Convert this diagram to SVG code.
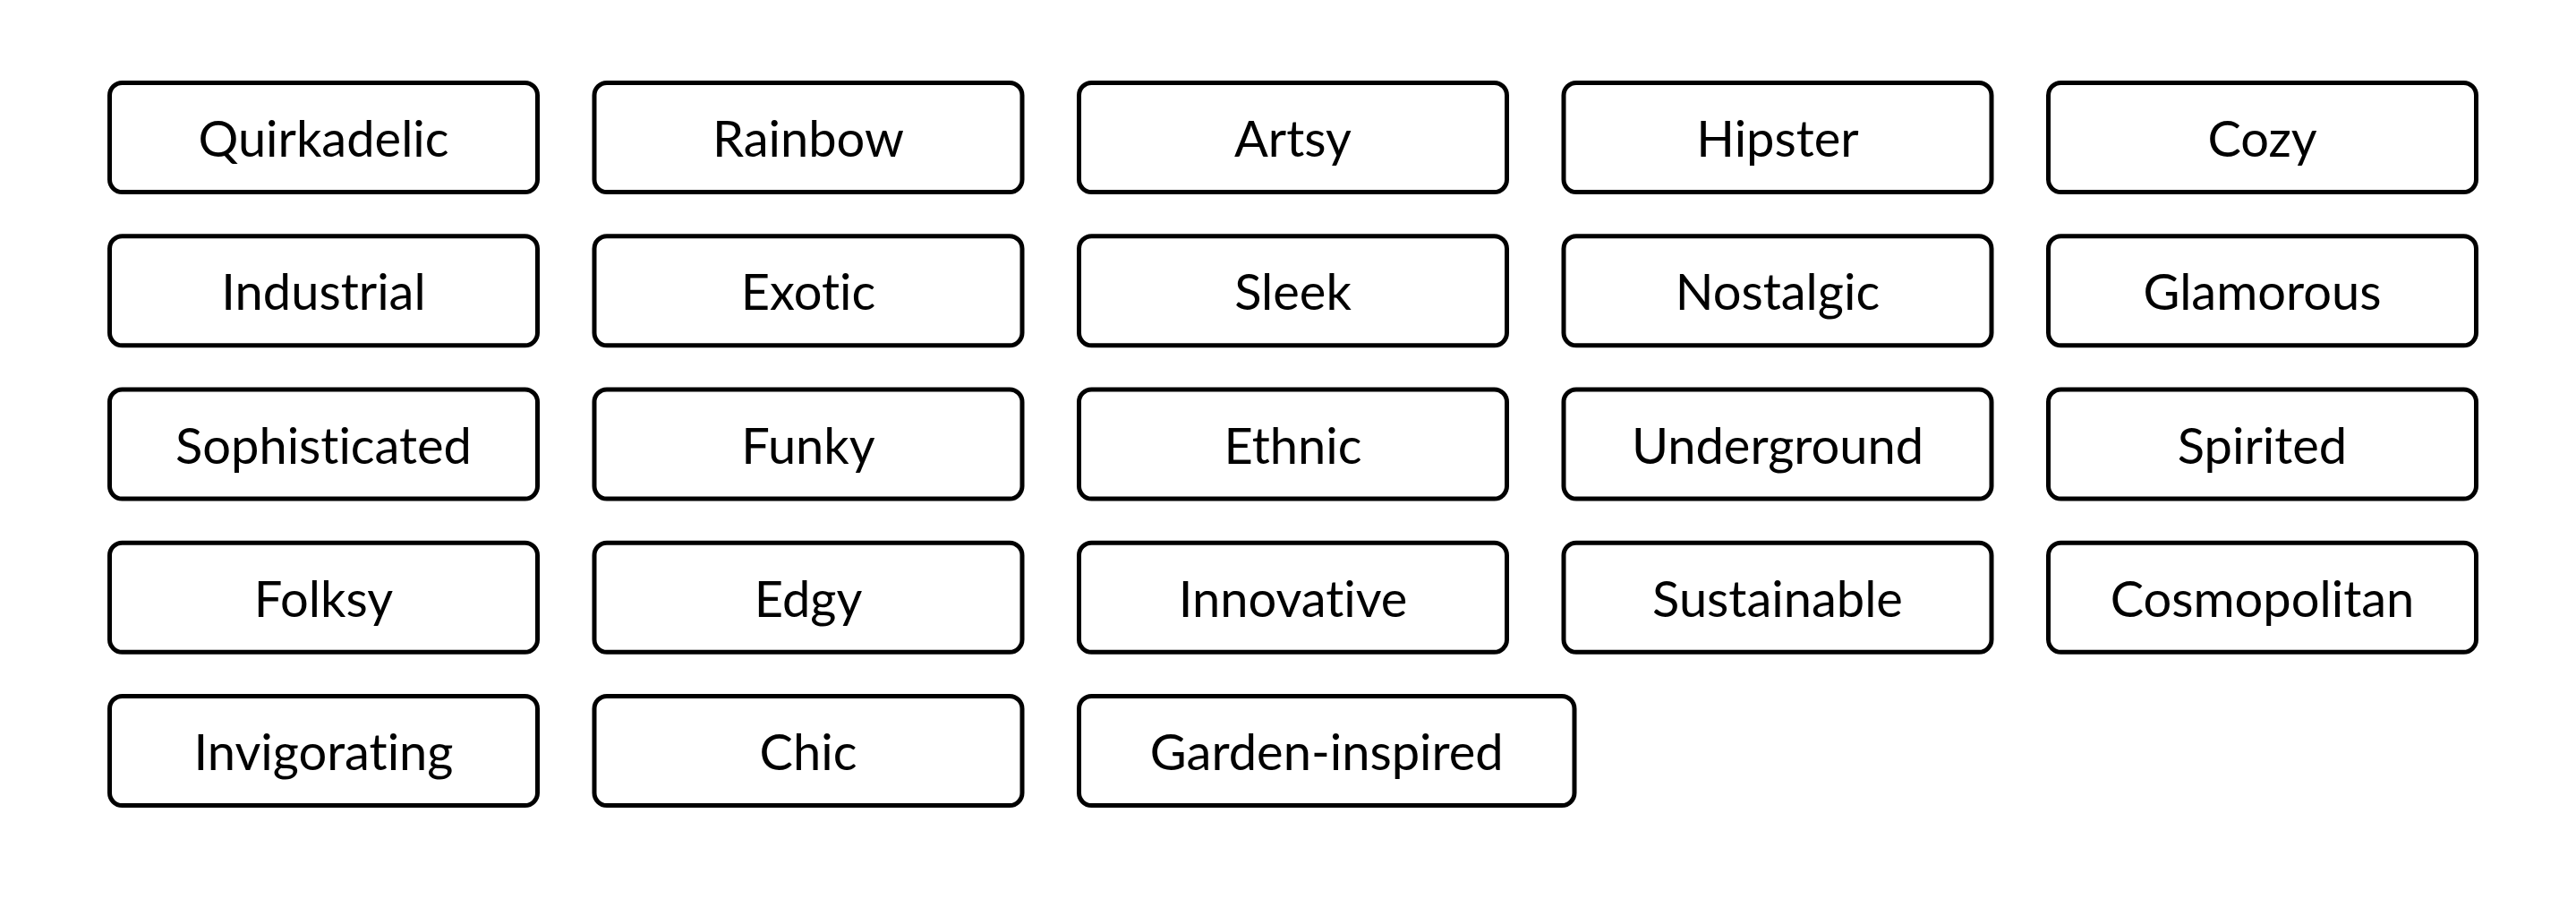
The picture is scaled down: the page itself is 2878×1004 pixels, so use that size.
<svg xmlns="http://www.w3.org/2000/svg" width="2878" height="1004" viewBox="0 0 2878 1004">
<style>
.box{fill:#fff;stroke:#000;stroke-width:5}
.lbl{font-family:Lato,"Open Sans",sans-serif;font-size:56px;fill:#000;text-anchor:middle;font-variant-ligatures:none;font-feature-settings:"liga" 0,"clig" 0}
</style>
<rect width="2878" height="1004" fill="#fff"/>
<g id="connectors"></g>
<g id="n-quirkadelic"><rect class="box" x="122.5" y="92.5" width="478" height="122" rx="14"/><text class="lbl" x="361.5" y="175">Quirkadelic</text></g>
<g id="n-rainbow"><rect class="box" x="664" y="92.5" width="478" height="122" rx="14"/><text class="lbl" x="903" y="175">Rainbow</text></g>
<g id="n-artsy"><rect class="box" x="1205.5" y="92.5" width="478" height="122" rx="14"/><text class="lbl" x="1444.5" y="175">Artsy</text></g>
<g id="n-hipster"><rect class="box" x="1747" y="92.5" width="478" height="122" rx="14"/><text class="lbl" x="1986" y="175">Hipster</text></g>
<g id="n-cozy"><rect class="box" x="2288.5" y="92.5" width="478" height="122" rx="14"/><text class="lbl" x="2527.5" y="175">Cozy</text></g>

<g id="n-industrial"><rect class="box" x="122.5" y="263.75" width="478" height="122" rx="14"/><text class="lbl" x="361.5" y="346.25">Industrial</text></g>
<g id="n-exotic"><rect class="box" x="664" y="263.75" width="478" height="122" rx="14"/><text class="lbl" x="903" y="346.25">Exotic</text></g>
<g id="n-sleek"><rect class="box" x="1205.5" y="263.75" width="478" height="122" rx="14"/><text class="lbl" x="1444.5" y="346.25">Sleek</text></g>
<g id="n-nostalgic"><rect class="box" x="1747" y="263.75" width="478" height="122" rx="14"/><text class="lbl" x="1986" y="346.25">Nostalgic</text></g>
<g id="n-glamorous"><rect class="box" x="2288.5" y="263.75" width="478" height="122" rx="14"/><text class="lbl" x="2527.5" y="346.25">Glamorous</text></g>

<g id="n-sophisticated"><rect class="box" x="122.5" y="435" width="478" height="122" rx="14"/><text class="lbl" x="361.5" y="517.5">Sophisticated</text></g>
<g id="n-funky"><rect class="box" x="664" y="435" width="478" height="122" rx="14"/><text class="lbl" x="903" y="517.5">Funky</text></g>
<g id="n-ethnic"><rect class="box" x="1205.5" y="435" width="478" height="122" rx="14"/><text class="lbl" x="1444.5" y="517.5">Ethnic</text></g>
<g id="n-underground"><rect class="box" x="1747" y="435" width="478" height="122" rx="14"/><text class="lbl" x="1986" y="517.5">Underground</text></g>
<g id="n-spirited"><rect class="box" x="2288.5" y="435" width="478" height="122" rx="14"/><text class="lbl" x="2527.5" y="517.5">Spirited</text></g>

<g id="n-folksy"><rect class="box" x="122.5" y="606.25" width="478" height="122" rx="14"/><text class="lbl" x="361.5" y="688.75">Folksy</text></g>
<g id="n-edgy"><rect class="box" x="664" y="606.25" width="478" height="122" rx="14"/><text class="lbl" x="903" y="688.75">Edgy</text></g>
<g id="n-innovative"><rect class="box" x="1205.5" y="606.25" width="478" height="122" rx="14"/><text class="lbl" x="1444.5" y="688.75">Innovative</text></g>
<g id="n-sustainable"><rect class="box" x="1747" y="606.25" width="478" height="122" rx="14"/><text class="lbl" x="1986" y="688.75">Sustainable</text></g>
<g id="n-cosmopolitan"><rect class="box" x="2288.5" y="606.25" width="478" height="122" rx="14"/><text class="lbl" x="2527.5" y="688.75">Cosmopolitan</text></g>

<g id="n-invigorating"><rect class="box" x="122.5" y="777.5" width="478" height="122" rx="14"/><text class="lbl" x="361.5" y="860">Invigorating</text></g>
<g id="n-chic"><rect class="box" x="664" y="777.5" width="478" height="122" rx="14"/><text class="lbl" x="903" y="860">Chic</text></g>
<g id="n-garden-inspired"><rect class="box" x="1205.5" y="777.5" width="553.5" height="122" rx="14"/><text class="lbl" x="1482.25" y="860">Garden-inspired</text></g>
</svg>
